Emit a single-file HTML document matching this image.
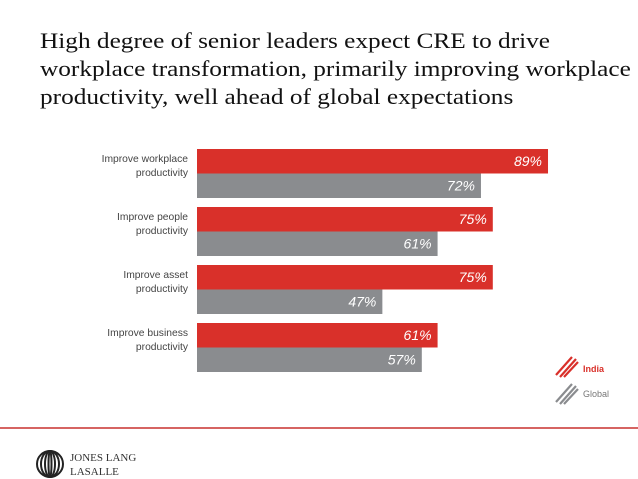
<!DOCTYPE html>
<html><head><meta charset="utf-8"><style>
body{margin:0;width:638px;height:479px;background:#fff;overflow:hidden;position:relative;font-family:"Liberation Sans",sans-serif}
.title{position:absolute;left:40px;top:27px;font-family:"Liberation Serif",serif;font-size:22px;line-height:28px;color:#111;white-space:nowrap;transform:scaleX(1.15);transform-origin:0 0}
</style></head><body>
<div class="title">High degree of senior leaders expect CRE to drive<br>workplace transformation, primarily improving workplace<br>productivity, well ahead of global expectations</div>
<svg id="chart" width="638" height="479" style="position:absolute;left:0;top:0">
<g id="bars"></g>
<g>
<g>
<path d="M556 375 L572 357 M560 377 L576 359 M564 377 L578 362" stroke="#d9302a" stroke-width="2.2" fill="none"/>
<text x="583" y="372" font-size="9" fill="#d9302a" font-weight="bold">India</text></g>
<g>
<path d="M556 402 L572 384 M560 404 L576 386 M564 404 L578 389" stroke="#8a8c8f" stroke-width="2.2" fill="none"/>
<text x="583" y="397" font-size="9" fill="#777">Global</text></g>
</g>
<line x1="0" y1="428" x2="638" y2="428" stroke="#c8312f" stroke-width="1.5"/>
<g>
<ellipse cx="50" cy="464" rx="13" ry="13" fill="none" stroke="#222" stroke-width="2"/>
<ellipse cx="50" cy="464" rx="9" ry="13" fill="none" stroke="#222" stroke-width="2"/>
<ellipse cx="50" cy="464" rx="5" ry="13" fill="none" stroke="#222" stroke-width="2"/>
<ellipse cx="50" cy="464" rx="1.5" ry="13" fill="none" stroke="#222" stroke-width="2"/>
<text x="70" y="461" font-family="Liberation Serif,serif" font-size="11" fill="#333">JONES LANG</text>
<text x="70" y="475" font-family="Liberation Serif,serif" font-size="11" fill="#333">LASALLE</text>
</g>
</svg>
<script>
const categories=[["Improve workplace","productivity"],["Improve people","productivity"],["Improve asset","productivity"],["Improve business","productivity"]];
const india=[89,75,75,61];
const global=[72,61,47,57];
const ns="http://www.w3.org/2000/svg";
const x0=197,pxPer=3.944,top0=149,pitch=58,bh=24.5;
const xs=v=>x0+v*pxPer;
const g=document.getElementById('bars');
function mk(t,a){const e=document.createElementNS(ns,t);for(const k in a)e.setAttribute(k,a[k]);g.appendChild(e);return e;}
categories.forEach((c,i)=>{
 const y=top0+i*pitch;
 [[india[i],"#d9302a","india",y],[global[i],"#8a8c8f","global",y+bh]].forEach(([v,col,s,yy])=>{
  const r=mk('rect',{x:x0,y:yy,width:xs(v)-x0,height:bh,fill:col});
  
  
  const t=mk('text',{x:xs(v)-6,y:yy+17,'text-anchor':'end','font-size':'14','font-style':'italic',fill:'#fff'});
  t.textContent=v+'%';
  
  
 });
 c.forEach((ln,j)=>{
  const t=mk('text',{x:188,y:y+13+j*14,'text-anchor':'end','font-size':'10.3',fill:'#444'});
  t.textContent=ln;
  
  
 });
});
</script>
</body></html>
